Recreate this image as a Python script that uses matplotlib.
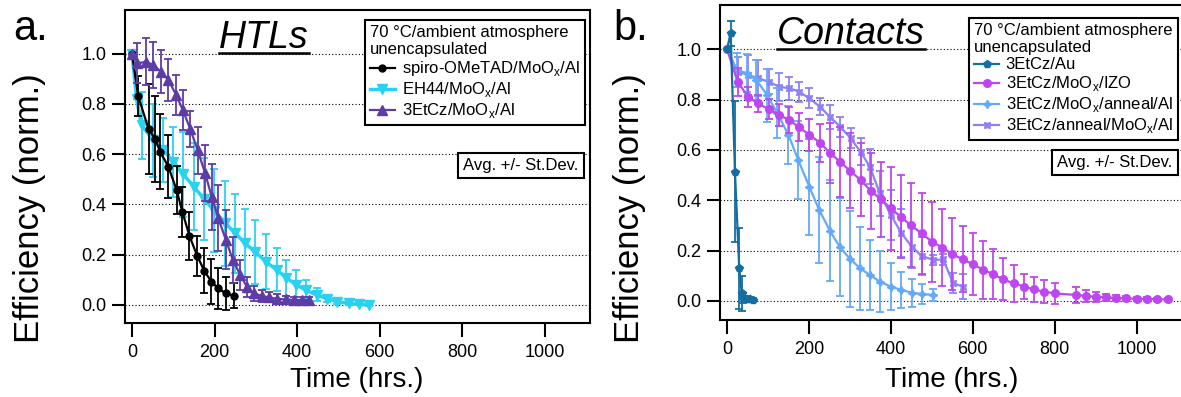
import matplotlib
matplotlib.use("Agg")
import matplotlib.pyplot as plt
from matplotlib.lines import Line2D

plt.rcParams['font.family'] = ['Liberation Sans', 'DejaVu Sans']

# ---------------- data: panel a (HTLs) ----------------
spiro_t = [0, 15, 40, 56, 68, 88, 108, 122, 139, 158, 175, 192, 209, 227, 246]
spiro_v = [1.0, 0.83, 0.70, 0.66, 0.61, 0.55, 0.457, 0.37, 0.275, 0.195, 0.136, 0.093, 0.066, 0.046, 0.037]
spiro_e = [0, 0.08, 0.18, 0.17, 0.15, 0.125, 0.095, 0.10, 0.095, 0.08, 0.09, 0.09, 0.08, 0.065, 0.05]

eh44_t = [0, 11, 23, 52, 76, 100, 124, 150, 175, 199, 226, 250, 274, 299, 324, 350, 374, 398, 422, 447, 473, 497, 525, 549, 573]
eh44_v = [1.0, 0.82, 0.715, 0.655, 0.615, 0.57, 0.52, 0.47, 0.42, 0.375, 0.325, 0.285, 0.245, 0.21, 0.172, 0.14, 0.108, 0.08,
          0.058, 0.04, 0.025, 0.013, 0.006, 0.002, 0.0]
eh44_e = [0, 0, 0.133, 0.145, 0.127, 0.139, 0.169, 0.173, 0.163, 0.165, 0.169, 0.156, 0.135, 0.128, 0.11, 0.085, 0.072, 0.06,
          0.042, 0.026, 0.015, 0.01, 0.006, 0.004, 0.003]

etcz_t = [0, 13, 34, 52, 70, 88, 107, 123, 141, 159, 177, 193, 209, 227, 244, 262, 278, 296, 315, 331, 350, 372, 392, 411, 428]
etcz_v = [1.0, 0.961, 0.967, 0.954, 0.928, 0.895, 0.835, 0.775, 0.70, 0.615, 0.524, 0.43, 0.345, 0.26, 0.18, 0.12, 0.073,
          0.046, 0.036, 0.03, 0.025, 0.022, 0.02, 0.02, 0.02]
etcz_e = [0, 0.08, 0.093, 0.093, 0.086, 0.085, 0.08, 0.08, 0.07, 0.094, 0.112, 0.13, 0.132, 0.118, 0.092, 0.06, 0.04,
          0.03, 0.025, 0.02, 0.018, 0.015, 0.012, 0.01, 0.01]

# ---------------- data: panel b (Contacts) ----------------
au_t = [0, 9, 19.5, 30, 36, 40, 48, 56, 64]
au_v = [1.0, 1.064, 0.514, 0.13, 0.03, 0.012, 0.008, 0.006, 0.005]
au_e = [0, 0.05, 0.28, 0.16, 0.07, 0.02, 0.01, 0.005, 0.005]

izo_t = [0, 26, 52, 76, 102, 128, 152, 176, 201, 227, 251, 276, 300, 326, 351, 375, 400, 424, 448, 475, 500, 526, 550,
         575, 600, 626, 650, 674, 700, 725, 749, 774, 800, 852, 876, 900, 926, 950, 975, 1000, 1025, 1050, 1077]
izo_v = [1.0, 0.871, 0.81, 0.785, 0.762, 0.739, 0.719, 0.69, 0.66, 0.629, 0.589, 0.553, 0.518, 0.481, 0.438, 0.404, 0.368,
         0.335, 0.302, 0.269, 0.236, 0.212, 0.186, 0.166, 0.146, 0.124, 0.106, 0.086, 0.07, 0.057, 0.046, 0.037, 0.03,
         0.024, 0.02, 0.017, 0.014, 0.012, 0.01, 0.009, 0.008, 0.007, 0.006]
izo_e = [0, 0.055, 0.04, 0.035, 0.04, 0.042, 0.05, 0.055, 0.065, 0.075, 0.12, 0.14, 0.15, 0.145, 0.15, 0.15, 0.165, 0.165,
         0.166, 0.16, 0.159, 0.152, 0.143, 0.132, 0.123, 0.116, 0.099, 0.084, 0.073, 0.05, 0.05, 0.046, 0.04, 0.03, 0.025,
         0.02, 0.015, 0.012, 0.01, 0.008, 0.006, 0.006, 0.005]

ann_t = [0, 24, 48, 72, 98, 123, 150, 174, 201, 225, 251, 276, 300, 325, 349, 373, 400, 426, 451, 475, 504]
ann_v = [1.0, 0.918, 0.905, 0.878, 0.818, 0.746, 0.66, 0.56, 0.454, 0.362, 0.28, 0.213, 0.168, 0.13, 0.103, 0.077, 0.057,
         0.044, 0.033, 0.028, 0.024]
ann_e = [0, 0.066, 0.075, 0.08, 0.105, 0.1, 0.115, 0.155, 0.19, 0.21, 0.2, 0.195, 0.19, 0.165, 0.14, 0.12, 0.093, 0.07,
         0.055, 0.04, 0.025]

ann2_t = [0, 26, 52, 76, 102, 128, 152, 176, 201, 227, 251, 277, 302, 326, 349, 373, 400, 426, 451, 475, 504, 528, 552, 577]
ann2_v = [1.0, 0.911, 0.898, 0.885, 0.871, 0.851, 0.845, 0.832, 0.805, 0.772, 0.732, 0.692, 0.646, 0.593, 0.533, 0.428,
          0.342, 0.269, 0.216, 0.179, 0.163, 0.165, 0.07, 0.057]
ann2_e = [0, 0.06, 0.08, 0.072, 0.05, 0.056, 0.046, 0.04, 0.04, 0.033, 0.047, 0.04, 0.04, 0.053, 0.07, 0.09, 0.1, 0.095,
          0.086, 0.075, 0.02, 0.02, 0.04, 0.05]

xticks = [0, 200, 400, 600, 800, 1000]
yticks = [0.0, 0.2, 0.4, 0.6, 0.8, 1.0]

legend_title = "70 °C/ambient atmosphere\nunencapsulated"
labels_a = ["spiro-OMeTAD/MoO$_\\mathregular{x}$/Al", "EH44/MoO$_\\mathregular{x}$/Al", "3EtCz/MoO$_\\mathregular{x}$/Al"]
labels_b = ["3EtCz/Au", "3EtCz/MoO$_\\mathregular{x}$/IZO", "3EtCz/MoO$_\\mathregular{x}$/anneal/Al",
            "3EtCz/anneal/MoO$_\\mathregular{x}$/Al"]

# ---------------- figure ----------------
W, H = 1181, 397
fig = plt.figure(figsize=(W / 100, H / 100), dpi=100)


def px_axes(x0, y0, x1, y1):
    return fig.add_axes([x0 / W, 1 - y1 / H, (x1 - x0) / W, (y1 - y0) / H])


axA = px_axes(125, 10, 590, 323)
axB = px_axes(720, 4.5, 1185, 320)


def style(ax, xlim, ylim):
    ax.set_xlim(*xlim)
    ax.set_ylim(*ylim)
    for s in ax.spines.values():
        s.set_linewidth(1.5)
    ax.set_xticks(xticks)
    ax.set_yticks(yticks)
    ax.set_yticklabels([f"{v:.1f}" for v in yticks])
    ax.tick_params(axis='x', direction='out', length=10, width=1.5, labelsize=13, pad=5)
    ax.tick_params(axis='y', direction='out', length=9.5, width=1.5, labelsize=13, pad=4)
    ax.yaxis.grid(True, color='k', lw=0.8, ls=(0, (1, 2)))
    ax.set_axisbelow(True)


style(axA, (-17, 1109), (-0.0716, 1.173))
style(axB, (-17, 1118), (-0.0755, 1.178))


def series(ax, t, v, e, color, marker, ms, lw=1.6, z=2):
    ax.errorbar(t, v, yerr=e, color=color, marker=marker, ms=ms, lw=lw, elinewidth=1.3,
                capsize=3, capthick=1.3, zorder=z)
    return Line2D([], [], color=color, marker=marker, ms=ms, lw=lw)


c_spiro, c_eh44, c_etcz = 'black', '#2ad2f2', '#5e3ca6'
c_au, c_izo, c_ann, c_ann2 = '#146ea0', '#be46f0', '#64aafa', '#8c82f5'

hA = [series(axA, spiro_t, spiro_v, spiro_e, c_spiro, 'o', 5, z=3),
      series(axA, eh44_t, eh44_v, eh44_e, c_eh44, 'v', 6.5, lw=2.5, z=2),
      series(axA, etcz_t, etcz_v, etcz_e, c_etcz, '^', 6.5, z=4)]

h_ann2 = series(axB, ann2_t, ann2_v, ann2_e, c_ann2, (4, 1, 45), 6, z=2)
h_ann = series(axB, ann_t, ann_v, ann_e, c_ann, (4, 1, 0), 6, z=3)
h_izo = series(axB, izo_t, izo_v, izo_e, c_izo, 'o', 5.5, z=4)
h_au = series(axB, au_t, au_v, au_e, c_au, 'p', 5.5, z=5)
hB = [h_au, h_izo, h_ann, h_ann2]


def legend(ax, handles, labels, x1, y0):
    lg = ax.legend(handles, labels, title=legend_title, loc='upper right',
                   bbox_to_anchor=(x1 / W, 1 - y0 / H), bbox_transform=fig.transFigure,
                   fontsize=12, title_fontsize=12, alignment='left', frameon=True, fancybox=False,
                   edgecolor='black', framealpha=1, borderpad=0.3, labelspacing=0.12, handlelength=1.5,
                   handletextpad=0.4, borderaxespad=0)
    lg.get_frame().set_linewidth(1.5)
    return lg


legend(axA, hA, labels_a, 585, 20)
legend(axB, hB, labels_b, 1178, 18)

box = dict(boxstyle='square,pad=0.3', fc='white', ec='black', lw=1.5)
fig.text(521 / W, 1 - 165.5 / H, "Avg. +/- St.Dev.", ha='center', va='center', fontsize=12, bbox=box)
fig.text(1115 / W, 1 - 162 / H, "Avg. +/- St.Dev.", ha='center', va='center', fontsize=12, bbox=box)

# axis labels
for ax, cx in ((axA, 357), (axB, 952)):
    fig.text(cx / W, 1 - 380 / H, "Time (hrs.)", ha='center', va='center', fontsize=20)
fig.text(30 / W, 1 - 208 / H, "Efficiency (norm.)", ha='center', va='center', rotation=90, fontsize=25)
fig.text(630 / W, 1 - 208 / H, "Efficiency (norm.)", ha='center', va='center', rotation=90, fontsize=25)

# panel letters
fig.text(13 / W, 1 - 40 / H, "a.", ha='left', va='baseline', fontsize=30)
fig.text(613 / W, 1 - 40 / H, "b.", ha='left', va='baseline', fontsize=30)

# underlined italic titles
titles = [fig.text(264 / W, 1 - 48 / H, "HTLs", ha='center', va='baseline', fontsize=27, style='italic'),
          fig.text(851 / W, 1 - 44 / H, "Contacts", ha='center', va='baseline', fontsize=27, style='italic')]
fig.canvas.draw()
r = fig.canvas.get_renderer()
for t in titles:
    bb = t.get_window_extent(r)
    yb = t.get_position()[1] - 5 / H
    fig.add_artist(Line2D([bb.x0 / W, bb.x1 / W], [yb, yb], color='black', lw=1.8))

fig.savefig("out.png", dpi=100)
